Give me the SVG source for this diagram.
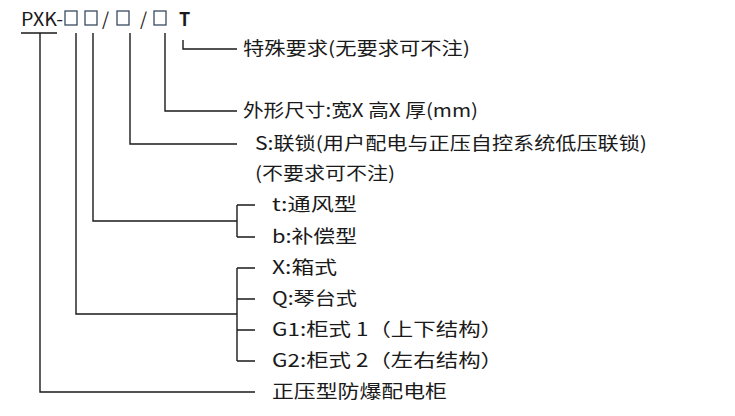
<svg xmlns="http://www.w3.org/2000/svg" width="735" height="416" viewBox="0 0 735 416">
<style>
text{font-family:"Noto Sans CJK SC","DejaVu Sans",sans-serif;font-size:18px;fill:#1a1a1a}
.c{fill:none;stroke:#1a1a1a;stroke-width:1.4}
.b{fill:none;stroke:#3a4a60;stroke-width:1.3}
</style>
<rect width="735" height="416" fill="#fff"/>
<g id="code">
<text x="21" y="26" font-family="Liberation Sans" font-size="19" textLength="42" lengthAdjust="spacingAndGlyphs">PXK-</text>
<text x="102" y="26" font-family="Liberation Sans" font-size="19">/</text>
<text x="140" y="26" font-family="Liberation Sans" font-size="19">/</text>
<text x="179" y="26" font-family="Liberation Sans" font-size="19" font-weight="bold">T</text>
<rect class="b" x="65" y="11" width="12" height="14"/>
<rect class="b" x="85" y="11" width="12" height="14"/>
<rect class="b" x="117" y="11" width="12" height="14"/>
<rect class="b" x="154" y="11" width="12" height="14"/>
</g>
<g id="connectors" class="c">
<path d="M21 33H57M40 33V392H255"/>
<path d="M183 40V49H237"/>
<path d="M165 33V111H237"/>
<path d="M130 33V144H237"/>
<path d="M93 33V221H237M237 205V237M237 205H255M237 237H255"/>
<path d="M76 33V314H237M237 268V361M237 268H255M237 299H255M237 330H255M237 361H255"/>
</g>
<g id="n1"><text x="243" y="55" textLength="227" lengthAdjust="spacingAndGlyphs">特殊要求(无要求可不注)</text></g>
<g id="n2"><text x="243" y="117" textLength="235" lengthAdjust="spacingAndGlyphs">外形尺寸:宽X 高X 厚(mm)</text></g>
<g id="n3"><text x="255" y="150" textLength="392" lengthAdjust="spacingAndGlyphs">S:联锁(用户配电与正压自控系统低压联锁)</text><text x="255" y="180" textLength="140" lengthAdjust="spacingAndGlyphs">(不要求可不注)</text></g>
<g id="n4"><text x="272" y="211" textLength="85" lengthAdjust="spacingAndGlyphs">t:通风型</text><text x="272" y="243" textLength="85" lengthAdjust="spacingAndGlyphs">b:补偿型</text></g>
<g id="n5"><text x="272" y="274" textLength="65" lengthAdjust="spacingAndGlyphs">X:箱式</text><text x="272" y="305" textLength="85" lengthAdjust="spacingAndGlyphs">Q:琴台式</text><text x="272" y="336" textLength="231" lengthAdjust="spacingAndGlyphs">G1:柜式 1（上下结构）</text><text x="272" y="367" textLength="231" lengthAdjust="spacingAndGlyphs">G2:柜式 2（左右结构）</text></g>
<g id="n6"><text x="272" y="398" textLength="175" lengthAdjust="spacingAndGlyphs">正压型防爆配电柜</text></g>
</svg>
